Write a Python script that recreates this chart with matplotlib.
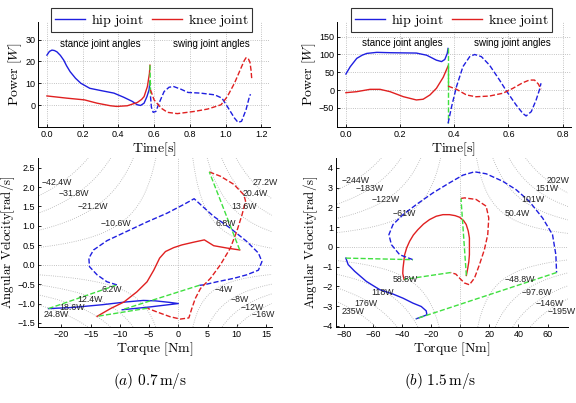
import numpy as np
import matplotlib
matplotlib.use("Agg")
import matplotlib.pyplot as plt

plt.rcParams['font.family'] = ['Liberation Sans', 'DejaVu Sans']
plt.rcParams['mathtext.fontset'] = 'cm'

# ---- top left: power vs time, 0.7 m/s ----
a_hip_st_t = [0, 0.014, 0.028, 0.042, 0.056, 0.075, 0.094, 0.11, 0.13, 0.16, 0.19, 0.24, 0.30, 0.375, 0.43, 0.478, 0.506, 0.525, 0.544, 0.56, 0.572, 0.577]
a_hip_st_p = [22.9, 24.6, 25.2, 25.0, 24.4, 22.8, 20.6, 18.0, 15.3, 12.3, 10.0, 7.7, 6.7, 5.5, 3.6, 1.7, 0.15, -0.15, 0.9, 3.9, 7.0, 11.0]
a_knee_st_t = [0, 0.11, 0.21, 0.28, 0.356, 0.39, 0.45, 0.506, 0.53, 0.544, 0.5625, 0.574, 0.577]
a_knee_st_p = [4.2, 3.2, 2.4, 0.9, -0.3, -0.6, -0.3, 1.2, 2.6, 3.9, 8.5, 14.5, 18.3]
a_hip_sw_t = [0.58, 0.585, 0.595, 0.61, 0.628, 0.656, 0.684, 0.71, 0.75, 0.79, 0.86, 0.94, 0.98, 1.01, 1.05, 1.07, 1.09, 1.115, 1.134, 1.14]
a_hip_sw_p = [4.0, -1.0, -3.3, -2.9, 0.9, 6.2, 8.2, 8.5, 7.3, 5.8, 5.5, 4.7, 3.2, -0.6, -5.9, -7.9, -7.4, -2.1, 3.9, 5.0]
a_knee_sw_t = [0.58, 0.6, 0.64, 0.675, 0.73, 0.825, 0.9, 0.975, 1.01, 1.05, 1.09, 1.105, 1.115, 1.127, 1.137, 1.143, 1.147]
a_knee_sw_p = [7.0, 2.4, -1.4, -3.3, -3.9, -2.9, -1.8, 0.15, 3.9, 10.0, 17.6, 20.4, 21.7, 21.4, 19.6, 16.0, 12.0]

# ---- top right: power vs time, 1.5 m/s ----
b_hip_st_t = [0, 0.016, 0.04, 0.06, 0.077, 0.114, 0.163, 0.26, 0.298, 0.334, 0.353, 0.365, 0.374, 0.377]
b_hip_st_p = [45, 65.6, 89, 98, 103, 106, 105, 104, 98, 84, 80, 86, 103, 117]
b_knee_st_t = [0, 0.04, 0.089, 0.126, 0.163, 0.212, 0.26, 0.285, 0.31, 0.334, 0.359, 0.377]
b_knee_st_p = [-7.5, -4.7, 1.9, 1.9, -4.7, -18.8, -28, -26, -14, 4.7, 35.6, 67.5]
b_hip_sw_t = [0.377, 0.39, 0.408, 0.432, 0.457, 0.475, 0.5, 0.53, 0.567, 0.59, 0.628, 0.653, 0.665, 0.684, 0.702, 0.714, 0.72]
b_hip_sw_p = [-94, -47, 9.4, 66, 94, 100, 94, 70, 28, 0, -42, -66, -73, -61, -28, 0, 19]
b_knee_sw_t = [0.377, 0.408, 0.445, 0.48, 0.53, 0.58, 0.616, 0.653, 0.677, 0.696, 0.71, 0.72]
b_knee_sw_p = [11, 2, -14, -19, -17, -9, 4.7, 20.6, 28, 28, 17, 2]

# ---- bottom left: torque / angular velocity, 0.7 m/s ----
a_hip_st_tq = [-9.6, -5.0, 0.0, -1.5, -4.0, -6.0, -9.0, -13.0, -18.0, -22.2]
a_hip_st_w = [-1.16, -1.09, -1.0, -0.97, -0.93, -0.92, -0.96, -1.03, -1.10, -1.13]
a_hip_sw_tq = [-10.5, -12.2, -13.9, -15.2, -15.3, -14.5, -12.2, -8.8, -5.4, -1.9, 0.9, 2.7, 3.8, 6.0, 8.9, 11.7, 13.7, 14.3, 13.7, 11.7, 9.5, 6.6, 4.3, 3.6]
a_hip_sw_w = [-0.52, -0.44, -0.26, -0.05, 0.17, 0.38, 0.62, 0.86, 1.1, 1.33, 1.55, 1.7, 1.55, 1.25, 0.94, 0.6, 0.3, 0.08, -0.14, -0.26, -0.35, -0.44, -0.52, -0.53]
a_knee_st_tq = [-13.9, -11.6, -9.3, -7.1, -5.35, -4.2, -3.2, -2.2, -0.8, 0.6, 2.6, 4.45, 6.05, 8.3, 10.5]
a_knee_st_w = [-1.33, -1.13, -0.96, -0.7, -0.44, -0.14, 0.17, 0.34, 0.44, 0.51, 0.58, 0.64, 0.49, 0.43, 0.38]
a_knee_sw_tq = [5.3, 7.2, 9.5, 11.2, 11.5, 10.9, 10.0, 8.9, 7.2, 5.5, 3.8, 2.9, 2.3, 1.8, 0.35, -1.4, -3.6, -5.3]
a_knee_sw_w = [2.39, 2.28, 2.07, 1.8, 1.64, 1.29, 0.86, 0.43, 0.0, -0.35, -0.61, -0.87, -1.13, -1.37, -1.4, -1.34, -1.22, -1.12]

# ---- bottom right: torque / angular velocity, 1.5 m/s ----
b_hip_st_tq = [-30.2, -25.6, -22.9, -23.4, -26.8, -32.5, -39.3, -46.2, -55.3, -64.5, -72.5, -77.0, -78.6]
b_hip_st_w = [-3.64, -3.52, -3.44, -3.24, -3.02, -2.85, -2.6, -2.39, -2.17, -1.75, -1.24, -0.9, -0.57]
b_hip_sw_tq = [-32.5, -41.6, -47.3, -49.0, -46.2, -39.3, -30.2, -18.8, -7.4, 1.8, 9.8, 17.8, 29.2, 38.3, 47.4, 56.6, 63.4, 65.7, 66.2]
b_hip_sw_w = [-0.65, -0.4, 0.11, 0.62, 1.13, 1.63, 2.14, 2.73, 3.24, 3.63, 3.8, 3.7, 3.32, 2.9, 2.31, 1.46, 0.62, -0.4, -1.3]
b_knee_st_tq = [-38.6, -39.5, -39.3, -38.2, -36.8, -34.8, -32.2, -29.1, -25.3, -21.1, -16.5, -11.9, -7.4, -3.5, -0.5, 2.3, 4.1, 5.5, 6.3, 6.3, 5.9, 5.2, 4.2]
b_knee_st_w = [-1.65, -1.35, -1.07, -0.4, -0.05, 0.28, 0.6, 0.87, 1.15, 1.38, 1.55, 1.63, 1.63, 1.58, 1.5, 1.33, 1.13, 0.8, 0.45, -0.4, -0.75, -1.07, -1.45]
b_knee_sw_tq = [0.5, 2.9, 10.9, 17.8, 19.6, 18.9, 16.6, 13.2, 9.8, 6.3, 2.9, -0.5, -3.0, -6.6]
b_knee_sw_w = [2.45, 2.48, 2.4, 2.06, 1.46, 0.62, -0.14, -0.9, -1.58, -1.92, -1.83, -1.58, -1.38, -1.3]

# iso-power levels per quadrant (UL, UR, LL, LR)
a_levels = [[-42.4, -31.8, -21.2, -10.6], [6.8, 13.6, 20.4, 27.2], [6.2, 12.4, 18.6, 24.8], [-4, -8, -12, -16]]
b_levels = [[-244, -183, -122, -61], [50.4, 101, 151, 202], [58.8, 118, 176, 235], [-48.8, -97.6, -146, -195]]
a_lab = ['\u221242.4W', '\u221231.8W', '\u221221.2W', '\u221210.6W', '27.2W', '20.4W', '13.6W', '6.8W',
         '6.2W', '12.4W', '18.6W', '24.8W', '\u22124W', '\u22128W', '\u221212W', '\u221216W']
b_lab = ['\u2212244W', '\u2212183W', '\u2212122W', '\u221261W', '202W', '151W', '101W', '50.4W',
         '58.8W', '118W', '176W', '235W', '\u221248.8W', '\u221297.6W', '\u2212146W', '\u2212195W']
a_lab_xy = [(-23.4, 2.13), (-20.4, 1.83), (-17.3, 1.5), (-13.3, 1.05), (12.7, 2.11), (11.0, 1.83), (9.0, 1.5), (6.3, 1.05),
            (-13.2, -0.64), (-17.2, -0.9), (-20.3, -1.09), (-23.0, -1.28), (6.2, -0.64), (8.9, -0.9), (10.7, -1.09), (12.6, -1.28)]
b_lab_xy = [(-81.6, 3.37), (-71.8, 2.93), (-61.0, 2.38), (-46.2, 1.68), (59.3, 3.37), (51.6, 2.93), (41.7, 2.38), (30.3, 1.68),
            (-46.7, -1.65), (-61.0, -2.29), (-72.5, -2.85), (-81.6, -3.27), (30.3, -1.65), (42.2, -2.29), (52.0, -2.85), (60.0, -3.27)]

BLUE = '#1f1fe0'
RED = '#e02020'
GREEN = '#40e040'
LW = 1.0

fig = plt.figure(figsize=(5.76, 4.03), dpi=100)

def style(ax):
    for s in ['top', 'right']:
        ax.spines[s].set_visible(False)
    ax.spines['left'].set_linewidth(0.7)
    ax.spines['bottom'].set_linewidth(0.7)
    ax.tick_params(direction='in', length=2, width=0.6, labelsize=6.5, pad=2)

def power_plot(rect, hs, ks, hw, kw, xlim, ylim, xticks, yticks, txt_y, txt_x):
    ax = fig.add_axes(rect)
    style(ax)
    ax.grid(True, linestyle=':', color='#b0b0b0', linewidth=0.6)
    l1, = ax.plot(hs[0], hs[1], color=BLUE, lw=LW, label=r'$\mathrm{hip\ joint}$')
    l2, = ax.plot(ks[0], ks[1], color=RED, lw=LW, label=r'$\mathrm{knee\ joint}$')
    ax.plot([hs[0][-1], hw[0][0]], [hs[1][-1], hw[1][0]], '--', color=GREEN, lw=LW)
    ax.plot([ks[0][-1], kw[0][0]], [ks[1][-1], kw[1][0]], '--', color=GREEN, lw=LW)
    ax.plot(hw[0], hw[1], '--', color=BLUE, lw=LW)
    ax.plot(kw[0], kw[1], '--', color=RED, lw=LW)
    ax.set_xlim(xlim)
    ax.set_ylim(ylim)
    ax.set_xticks(xticks)
    ax.set_yticks(yticks)
    ax.set_xlabel(r'$\mathrm{Time[s]}$', fontsize=10, labelpad=1)
    ax.set_ylabel(r'$\mathrm{Power}\ [W]$', fontsize=10, labelpad=1)
    ax.text(txt_x[0], txt_y, 'stance joint angles', fontsize=7, ha='center', va='center')
    ax.text(txt_x[1], txt_y, 'swing joint angles', fontsize=7, ha='center', va='center')
    leg = ax.legend(handles=[l1, l2], loc='center', bbox_to_anchor=(0.49, 1.02), ncol=2,
                    fontsize=10, frameon=True, fancybox=False, handlelength=2.2,
                    columnspacing=0.6, handletextpad=0.4, borderpad=0.25, borderaxespad=0)
    leg.get_frame().set_edgecolor('black')
    leg.get_frame().set_linewidth(0.8)
    return ax

power_plot([0.066, 0.685, 0.403, 0.26], (a_hip_st_t, a_hip_st_p), (a_knee_st_t, a_knee_st_p),
           (a_hip_sw_t, a_hip_sw_p), (a_knee_sw_t, a_knee_sw_p),
           (-0.05, 1.25), (-10, 38), [0, 0.2, 0.4, 0.6, 0.8, 1.0, 1.2], [0, 10, 20, 30], 28.2, (0.30, 0.92))
power_plot([0.585, 0.685, 0.406, 0.26], (b_hip_st_t, b_hip_st_p), (b_knee_st_t, b_knee_st_p),
           (b_hip_sw_t, b_hip_sw_p), (b_knee_sw_t, b_knee_sw_p),
           (-0.033, 0.83), (-104, 191), [0, 0.2, 0.4, 0.6, 0.8], [-50, 0, 50, 100, 150], 133, (0.207, 0.616))


def phase_plot(rect, hs, hw, ks, kw, xlim, ylim, xticks, yticks, levels, labs, labxy, ylab_x):
    ax = fig.add_axes(rect)
    style(ax)
    T, W = np.meshgrid(np.linspace(xlim[0], xlim[1], 400), np.linspace(ylim[0], ylim[1], 400))
    P = T * W
    quads = [(T < 0) & (W > 0), (T > 0) & (W > 0), (T < 0) & (W < 0), (T > 0) & (W < 0)]
    for q, lv in zip(quads, levels):
        ax.contour(T, W, np.ma.masked_where(~q, P), levels=sorted(lv),
                   colors='#b0b0b0', linestyles=':', linewidths=0.6)
    ax.axhline(0, color='#b0b0b0', ls=':', lw=0.6)
    ax.axvline(0, color='#b0b0b0', ls=':', lw=0.6)
    ax.plot(hs[0], hs[1], color=BLUE, lw=LW)
    ax.plot(ks[0], ks[1], color=RED, lw=LW)
    ax.plot(hw[0], hw[1], '--', color=BLUE, lw=LW)
    ax.plot(kw[0], kw[1], '--', color=RED, lw=LW)
    # transitions between stance and swing
    ax.plot([hs[0][-1], hw[0][0]], [hs[1][-1], hw[1][0]], '--', color=GREEN, lw=LW)
    ax.plot([hw[0][-1], hs[0][0]], [hw[1][-1], hs[1][0]], '--', color=GREEN, lw=LW)
    ax.plot([ks[0][-1], kw[0][0]], [ks[1][-1], kw[1][0]], '--', color=GREEN, lw=LW)
    ax.plot([kw[0][-1], ks[0][0]], [kw[1][-1], ks[1][0]], '--', color=GREEN, lw=LW)
    for s, (x, y) in zip(labs, labxy):
        ax.text(x, y, s, fontsize=6.3, ha='left', va='center', color='#222222')
    ax.set_xlim(xlim)
    ax.set_ylim(ylim)
    ax.set_xticks(xticks)
    ax.set_yticks(yticks)
    ax.set_xlabel(r'$\mathrm{Torque\ [Nm]}$', fontsize=10, labelpad=1)
    ax.set_ylabel(r'$\mathrm{Angular\ Velocity[rad/s]}$', fontsize=9.3)
    ax.yaxis.set_label_coords(ylab_x, 0.5)
    return ax

phase_plot([0.066, 0.189, 0.406, 0.419], (a_hip_st_tq, a_hip_st_w), (a_hip_sw_tq, a_hip_sw_w),
           (a_knee_st_tq, a_knee_st_w), (a_knee_sw_tq, a_knee_sw_w),
           (-24, 16), (-1.6, 2.75), [-20, -15, -10, -5, 0, 5, 10, 15],
           [-1.5, -1, -0.5, 0, 0.5, 1, 1.5, 2, 2.5], a_levels, a_lab, a_lab_xy, -0.088)
phase_plot([0.583, 0.189, 0.403, 0.419], (b_hip_st_tq, b_hip_st_w), (b_hip_sw_tq, b_hip_sw_w),
           (b_knee_st_tq, b_knee_st_w), (b_knee_sw_tq, b_knee_sw_w),
           (-85.5, 74), (-4.05, 4.5), [-80, -60, -40, -20, 0, 20, 40, 60],
           [-4, -3, -2, -1, 0, 1, 2, 3, 4], b_levels, b_lab, b_lab_xy, -0.07)

fig.text(150 / 576, 1 - 381 / 403, r'$(a)\ \mathbf{0.7}\,\mathrm{m/s}$', fontsize=11, ha='center', va='center')
fig.text(440 / 576, 1 - 381 / 403, r'$(b)\ \mathbf{1.5}\,\mathrm{m/s}$', fontsize=11, ha='center', va='center')

fig.savefig('out.png', dpi=100)
